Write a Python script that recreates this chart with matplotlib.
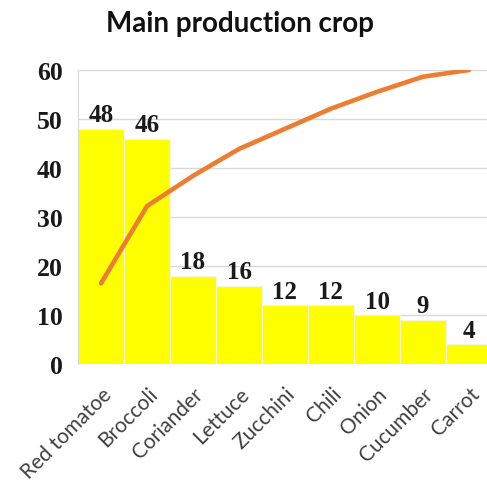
import numpy as np
import matplotlib
matplotlib.use("Agg")
import matplotlib.pyplot as plt

# datos
crops = ["Red tomatoe", "Broccoli", "Coriander", "Lettuce", "Zucchini",
         "Chili", "Onion", "Cucumber", "Carrot"]
counts = [48, 46, 18, 16, 12, 12, 10, 9, 4]
y_ticks = [0, 10, 20, 30, 40, 50, 60]

# porcentaje acumulado (pareto)
cum_pct = np.cumsum(counts) / np.sum(counts) * 100

fig = plt.figure(figsize=(4.87, 4.85), dpi=100)
ax = fig.add_axes([78 / 487, 1 - 365 / 485, 414 / 487, 294 / 485])

x = np.arange(len(crops))
ax.bar(x, counts, width=1.0, color="#FFFF00", edgecolor="#F2F2F2",
       linewidth=0.6, zorder=2)
for xi, v in zip(x, counts):
    ax.text(xi, v + 0.5, str(v), ha="center", va="bottom",
            family="Liberation Serif", fontweight="bold", fontsize=18,
            color="#1a1a1a", zorder=4)

ax.set_xlim(-0.5, len(crops) - 0.5)
ax.set_ylim(0, 60)
ax.set_yticks(y_ticks)
ax.yaxis.grid(True, color="#D9D9D9", linewidth=1.0, zorder=0)
ax.set_axisbelow(True)
for s in ["top", "right", "bottom"]:
    ax.spines[s].set_visible(False)
ax.spines["left"].set_color("#D9D9D9")
ax.tick_params(axis="both", length=0)
ax.tick_params(axis="y", pad=11)
for lab in ax.get_yticklabels():
    lab.set_family("Liberation Serif")
    lab.set_fontweight("bold")
    lab.set_fontsize(18.5)
    lab.set_color("#1a1a1a")

ax.set_xticks(x)
ax.set_xticklabels(crops, rotation=45, ha="right", rotation_mode="anchor",
                   family="Lato", fontsize=15, color="#404040")
ax.tick_params(axis="x", pad=14)

# eje secundario oculto para la linea acumulada
ax2 = ax.twinx()
ax2.set_ylim(0, 100)
ax2.plot(x, cum_pct, color="#ED7D31", linewidth=3.3, solid_capstyle="round",
         zorder=5)
ax2.axis("off")

fig.text(0.492, 0.951, "Main production crop", ha="center", va="center",
         family="Lato", fontweight="bold", fontsize=20, color="#111111")

fig.savefig("out.png", dpi=100, facecolor="white")
